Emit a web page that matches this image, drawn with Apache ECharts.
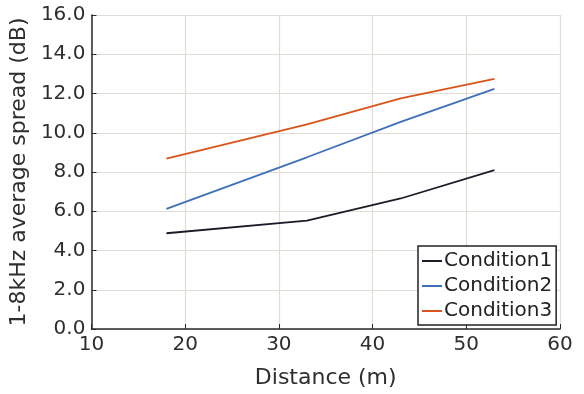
<!DOCTYPE html>
<html>
<head>
<meta charset="utf-8">
<script src="https://cdn.jsdelivr.net/npm/echarts@6/dist/echarts.min.js"></script>
<style>
  html, body { margin: 0; padding: 0; background: #ffffff; }
  #chart { width: 584px; height: 394px; }
</style>
</head>
<body>
<div id="chart"></div>
<script>
// Distances (m) where the spread was evaluated
const distances = [18, 33, 43, 53];

// 1-8 kHz average spread (dB) per condition
const condition1 = [4.88, 5.52, 6.65, 8.09];
const condition2 = [6.12, 8.75, 10.55, 12.24];
const condition3 = [8.68, 10.43, 11.75, 12.75];

const seriesNames = ['Condition1', 'Condition2', 'Condition3'];
const seriesColors = ['#1c1c28', '#3f6fb8', '#d9541a'];

// Axis tick values
const xTicks = [10, 20, 30, 40, 50, 60];
const yTicks = [0, 2, 4, 6, 8, 10, 12, 14, 16];

const pairs = (ys) => distances.map((d, i) => [d, ys[i]]);
const allValues = [condition1, condition2, condition3];

const fontFamily = '"DejaVu Sans", Verdana, sans-serif';
const textColor = '#2e2e2e';

const chart = echarts.init(document.getElementById('chart'), null, { renderer: 'canvas' });

chart.setOption({
  backgroundColor: '#ffffff',
  animation: false,
  grid: { left: 91, right: 24, top: 15, bottom: 65, containLabel: false },
  xAxis: {
    type: 'value',
    min: xTicks[0],
    max: xTicks[xTicks.length - 1],
    interval: 10,
    name: 'Distance (m)',
    nameLocation: 'middle',
    nameGap: 38,
    nameTextStyle: { fontFamily, fontSize: 22, color: textColor },
    axisLine: { show: true, lineStyle: { color: '#2b2b2b', width: 1.5 } },
    axisTick: { show: true, inside: true, length: 5, lineStyle: { color: '#2b2b2b' } },
    axisLabel: { fontFamily, fontSize: 20, color: textColor, margin: 6 },
    splitLine: { show: true, lineStyle: { color: '#e2dcd6', width: 1.2 } }
  },
  yAxis: {
    type: 'value',
    min: yTicks[0],
    max: yTicks[yTicks.length - 1],
    interval: 2,
    name: '1-8kHz average spread (dB)',
    nameLocation: 'middle',
    nameGap: 55,
    nameTextStyle: { fontFamily, fontSize: 22, color: textColor },
    axisLine: { show: true, lineStyle: { color: '#2b2b2b', width: 1.5 } },
    axisTick: { show: true, inside: true, length: 5, lineStyle: { color: '#2b2b2b' } },
    axisLabel: {
      fontFamily, fontSize: 20, color: textColor, margin: 6,
      formatter: (v) => v.toFixed(1)
    },
    splitLine: { show: true, lineStyle: { color: '#e2dcd6', width: 1.2 } }
  },
  legend: {
    orient: 'vertical',
    left: 418,
    top: 246,
    padding: [5, 4, 4, 4],
    itemGap: 5,
    itemWidth: 20,
    itemHeight: 2,
    icon: 'rect',
    borderColor: '#222222',
    borderWidth: 1.5,
    backgroundColor: '#ffffff',
    textStyle: { fontFamily, fontSize: 20, color: '#222222', padding: [0, 0, 0, -3] },
    data: seriesNames
  },
  series: seriesNames.map((name, i) => ({
    name,
    type: 'line',
    data: pairs(allValues[i]),
    showSymbol: false,
    symbol: 'none',
    color: seriesColors[i],
    lineStyle: { color: seriesColors[i], width: 1.8 },
    z: 3
  }))
});
</script>
</body>
</html>
